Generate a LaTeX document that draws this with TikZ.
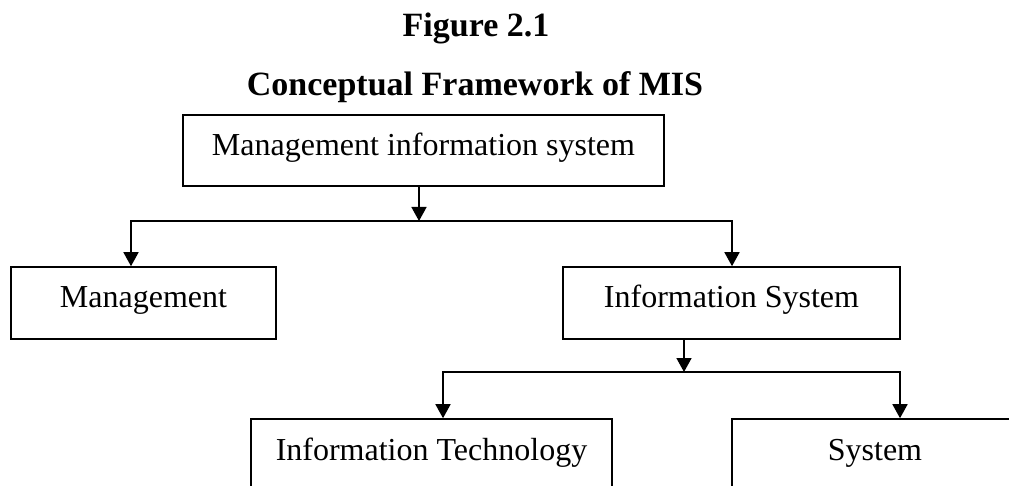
\documentclass[tikz,border=0pt]{standalone}
\usepackage{fontspec}
\setmainfont{Liberation Serif}
\usetikzlibrary{arrows.meta}
\begin{document}
\begin{tikzpicture}[x=1pt,y=-1pt,
  boxnode/.style={draw=black,line width=1.6pt,inner sep=0pt,
    font=\fontsize{32}{38}\selectfont,text height=17pt,text depth=7pt},
  titlenode/.style={font=\fontsize{34}{40}\selectfont\bfseries,inner sep=0pt,anchor=base},
  conn/.style={line width=1.6pt,-{Triangle[length=14pt,width=15pt]}},
  plain/.style={line width=1.6pt}]
\useasboundingbox (0,0) rectangle (1009,486);
\clip (0,0) rectangle (1009,486);
\node[titlenode] (t1) at (476,37) {Figure 2.1};
\node[titlenode] (t2) at (475,96) {Conceptual Framework of MIS};
\node[boxnode,minimum width=481pt,minimum height=71pt] (top) at (423.5,150.5) {Management information system};
\node[boxnode,minimum width=265pt,minimum height=72pt] (mgmt) at (143.5,303) {Management};
\node[boxnode,minimum width=337pt,minimum height=72pt] (is) at (731.5,303) {Information System};
\node[boxnode,minimum width=361pt,minimum height=72pt] (it) at (431.5,455) {Information Technology};
\node[boxnode,minimum width=286pt,minimum height=72pt] (sys) at (875,455) {System};
\coordinate (b1) at (419,221);
\coordinate (l1) at (131,221);
\coordinate (r1) at (732,221);
\coordinate (b2) at (684,372);
\coordinate (l2) at (443,372);
\coordinate (r2) at (900,372);
\draw[conn] (top.south -| b1) -- (b1);
\draw[conn] (b1) -| (mgmt.north -| l1);
\draw[conn] (b1) -| (is.north -| r1);
\draw[conn] (is.south -| b2) -- (b2);
\draw[conn] (b2) -| (it.north -| l2);
\draw[conn] (b2) -| (sys.north -| r2);
\end{tikzpicture}
\end{document}
